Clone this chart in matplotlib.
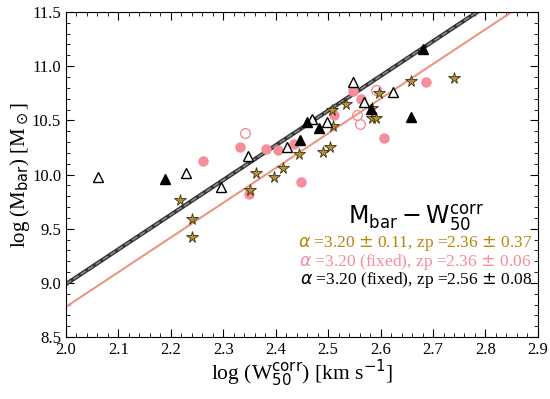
import matplotlib
matplotlib.use('Agg')
import matplotlib.pyplot as plt
import numpy as np
from matplotlib.ticker import MultipleLocator

plt.rcParams['font.family'] = ['Liberation Serif', 'DejaVu Serif']
plt.rcParams['mathtext.fontset'] = 'dejavusans'

# open triangles
tri_open_x = [2.061, 2.229, 2.296, 2.347, 2.421, 2.469, 2.498, 2.547, 2.568, 2.624]
tri_open_y = [9.977, 10.014, 9.885, 10.171, 10.254, 10.512, 10.485, 10.854, 10.669, 10.762]
# filled triangles
tri_fill_x = [2.189, 2.446, 2.460, 2.482, 2.582, 2.658, 2.681]
tri_fill_y = [9.958, 10.318, 10.485, 10.429, 10.605, 10.531, 11.158]
# filled pink circles
circ_fill_x = [2.261, 2.332, 2.381, 2.404, 2.435, 2.448, 2.349, 2.547, 2.563, 2.511, 2.606, 2.686]
circ_fill_y = [10.125, 10.254, 10.235, 10.226, 10.281, 9.931, 9.82, 10.77, 10.697, 10.549, 10.337, 10.854]
# open pink circles
circ_open_x = [2.341, 2.591, 2.555, 2.561]
circ_open_y = [10.383, 10.78, 10.549, 10.466]
# stars
star_x = [2.217, 2.240, 2.240, 2.351, 2.362, 2.397, 2.414, 2.444, 2.507, 2.509, 2.490, 2.503,
          2.534, 2.584, 2.584, 2.591, 2.597, 2.658, 2.740]
star_y = [9.765, 9.589, 9.423, 9.857, 10.014, 9.977, 10.06, 10.19, 10.595, 10.448, 10.208, 10.254,
          10.651, 10.612, 10.521, 10.521, 10.752, 10.863, 10.891]

# fit lines: log M = alpha * x + intercept
alpha = 3.20
icpt_black = 2.59
icpt_pink = 2.38

gold = '#b8860b'
pink = '#f58d9b'
salmon = '#ec9585'

fig = plt.figure(figsize=(5.5, 3.99), dpi=100)
ax = fig.add_axes([0.12, 0.155, 0.858, 0.815])

xx = np.array([2.0, 2.9])
ax.plot(xx, alpha*xx + icpt_pink, color=salmon, lw=1.5, zorder=2)
ax.plot(xx, alpha*xx + icpt_black, color='#333333', lw=3, zorder=2)
ax.plot(xx, alpha*xx + icpt_black, color='#888888', lw=1.2, ls='--', zorder=2)

ax.plot(circ_fill_x, circ_fill_y, 'o', ms=7.5, color=pink, mec='none', zorder=3)
ax.plot(circ_open_x, circ_open_y, 'o', ms=7, mfc='none', mec=pink, mew=1, zorder=3)
ax.plot(star_x, star_y, '*', ms=8.5, mfc='#b3903a', mec='#3d300c', mew=0.6, zorder=4)
ax.plot(tri_open_x, tri_open_y, '^', ms=7, mfc='white', mec='black', mew=1, zorder=5)
ax.plot(tri_fill_x, tri_fill_y, '^', ms=7, color='black', zorder=5)

ax.set_xlim(2.0, 2.9)
ax.set_ylim(8.5, 11.5)
ax.xaxis.set_major_locator(MultipleLocator(0.1))
ax.xaxis.set_minor_locator(MultipleLocator(0.02))
ax.yaxis.set_major_locator(MultipleLocator(0.5))
ax.yaxis.set_minor_locator(MultipleLocator(0.1))
ax.tick_params(which='both', direction='in', top=True, right=True, labelsize=12)
ax.tick_params(which='major', length=6)
ax.tick_params(which='minor', length=3)

ax.set_xlabel(r'log (W$^{\rm corr}_{50}$) [km s$^{-1}$]', fontsize=15.5, labelpad=0)
ax.set_ylabel(r'log (M$_{\rm bar}$) [M$_\odot$]', fontsize=15, labelpad=0)

ax.text(0.741, 0.365, r'$\rm M_{bar} - W^{corr}_{50}$', transform=ax.transAxes,
        ha='center', va='center', fontsize=17)
ax.text(0.741, 0.289, r'$\alpha$ =3.20 $\pm$ 0.11, zp =2.36 $\pm$ 0.37', transform=ax.transAxes,
        ha='center', va='center', fontsize=12.5, color=gold)
ax.text(0.741, 0.232, r'$\alpha$ =3.20 (fixed), zp =2.36 $\pm$ 0.06', transform=ax.transAxes,
        ha='center', va='center', fontsize=12.5, color=pink)
ax.text(0.741, 0.176, r'$\alpha$ =3.20 (fixed), zp =2.56 $\pm$ 0.08', transform=ax.transAxes,
        ha='center', va='center', fontsize=12.5, color='black')

fig.savefig('out.png', dpi=100)
